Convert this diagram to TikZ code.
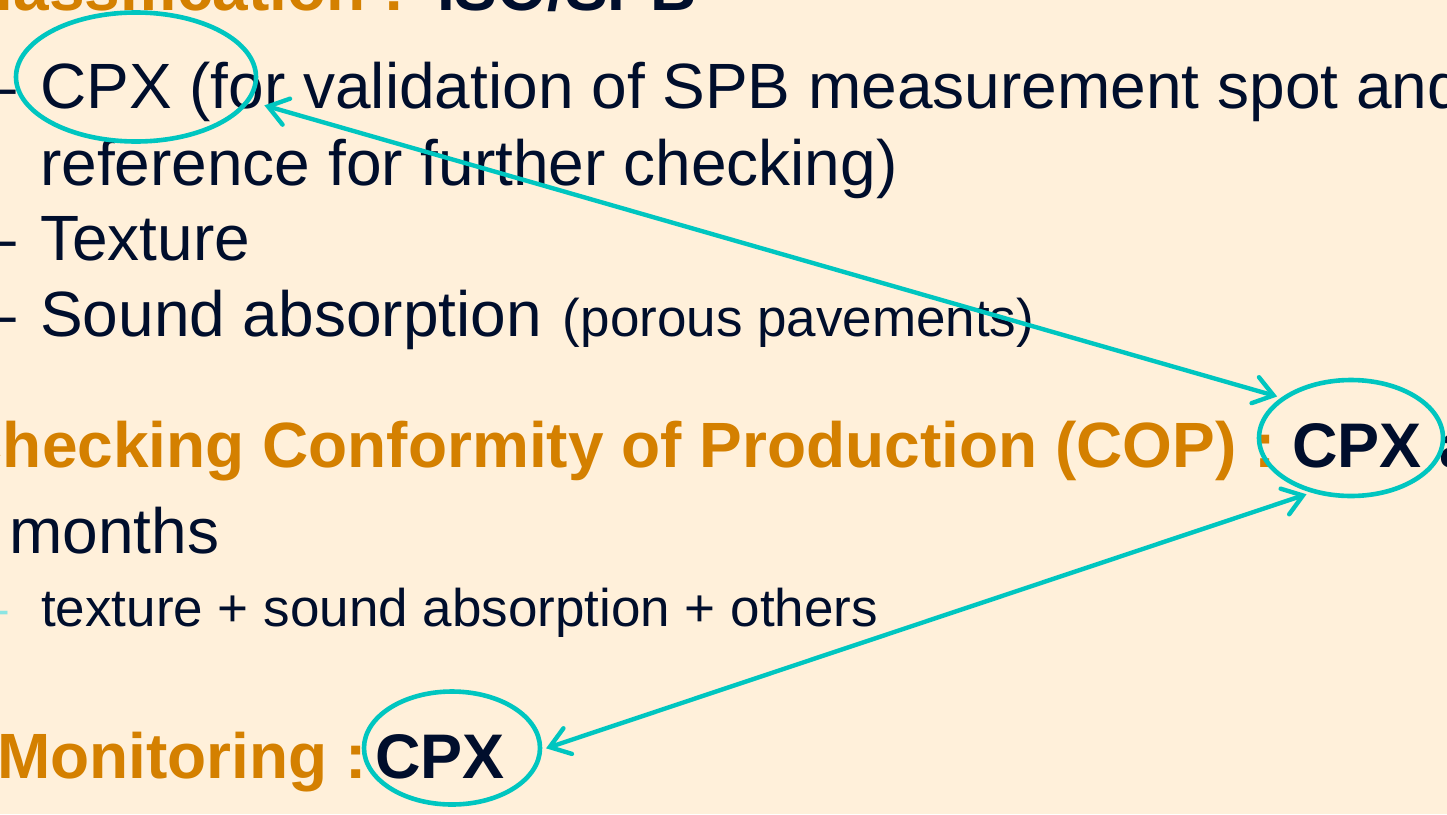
\documentclass[tikz,border=0pt]{standalone}
\usepackage{fontspec}
\setmainfont{Liberation Sans}
\usetikzlibrary{shapes.geometric,arrows.meta,calc}
\definecolor{bgc}{RGB}{255,240,218}
\definecolor{orng}{RGB}{212,128,0}
\definecolor{navy}{RGB}{0,14,44}
\definecolor{cyn}{RGB}{0,198,192}
\tikzset{
  big/.style={inner sep=0pt, anchor=base west, text=navy, font=\fontsize{64}{70}\selectfont},
  bigb/.style={inner sep=0pt, anchor=base west, text=orng, font=\fontsize{64}{70}\selectfont\bfseries},
  sml/.style={inner sep=0pt, anchor=base west, text=navy, font=\fontsize{53}{60}\selectfont},
  ring/.style={ellipse, draw=cyn, line width=4.6pt, inner sep=0pt},
  link/.style={draw=cyn, line width=4.4pt, line cap=round, {Straight Barb[length=19pt,width=27pt,line cap=round]}-{Straight Barb[length=19pt,width=27pt,line cap=round]}}
}
\begin{document}
\begin{tikzpicture}[x=1pt,y=-1pt]
\useasboundingbox (0,0) rectangle (1447,814);
\clip (0,0) rectangle (1447,814);
\fill[bgc] (0,0) rectangle (1447,814);
% top line
\node[bigb, anchor=base east] (t1) at (405,10) {Classification :};
\node[big, font=\fontsize{64}{70}\selectfont\bfseries] (t2) at (437,10) {ISO/SPB};
% bullets
\node[big, anchor=base east] (d1) at (16,108) {–};
\node[big] (l1) at (40,108) {CPX (for validation of SPB measurement spot and};
\node[big] (l2) at (40,185) {reference for further checking)};
\node[big, anchor=base east] (d2) at (16,260) {–};
\node[big] (l3) at (40,260) {Texture};
\node[big, anchor=base east] (d3) at (16,336) {–};
\node[big] (l4) at (40,336) {Sound absorption\hspace{21pt}\fontsize{53}{60}\selectfont(porous pavements)};
% COP
\node[bigb, anchor=base east] (c1) at (1276,467) {Checking Conformity of Production (COP) :};
\node[big, font=\fontsize{63}{70}\selectfont\bfseries] (c2) at (1292,467) {CPX and};
\node[big] (m1) at (9,553) {months};
\node[sml, anchor=base east, text=cyn!45] (d4) at (8,626) {–};
\node[sml] (m2) at (41,626) {texture + sound absorption + others};
% Monitoring
\node[bigb] (n1) at (-3,778) {Monitoring :};
\node[big, font=\fontsize{63}{70}\selectfont\bfseries] (n2) at (375,778) {CPX};
% ellipses
\node[ring, minimum width=240pt, minimum height=129pt] (e1) at (136,77) {};
\node[ring, minimum width=184pt, minimum height=116pt] (e2) at (1351,438) {};
\node[ring, minimum width=176pt, minimum height=113pt] (e3) at (452,748) {};
% arrows
\draw[link] ($(e1.-12)!15pt!(e2.150)$) -- ($(e2.150)!4pt!(e1.-12)$);
\draw[link] ($(e2.234)!5pt!(e3.-1)$) -- ($(e3.-1)!4pt!(e2.234)$);
\end{tikzpicture}
\end{document}
